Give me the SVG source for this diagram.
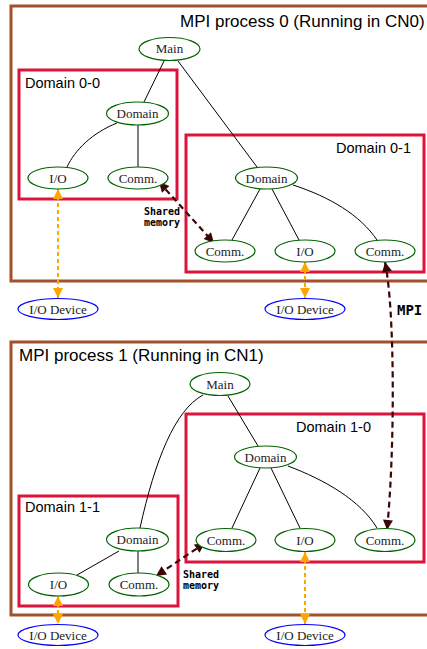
<svg xmlns="http://www.w3.org/2000/svg" width="427" height="649" viewBox="0 0 427 649">
<style>
.proc{fill:none;stroke:#a0522d;stroke-width:3}
.dom{fill:none;stroke:#dc143c;stroke-width:3}
.node{fill:#fff;stroke:#006400;stroke-width:1.2}
.dev{fill:#fff;stroke:#0000ff;stroke-width:1.2}
.nt{font-family:"Liberation Serif","Times New Roman",serif;font-size:13px;fill:#222;text-anchor:middle}
.lbl{font-family:"Liberation Sans",Arial,sans-serif;font-size:14.5px;fill:#000}
.ttl{font-family:"Liberation Sans",Arial,sans-serif;font-size:17px;fill:#000}
.mono{font-family:"DejaVu Sans Mono","Liberation Mono",monospace;font-weight:bold;fill:#000}
.e{fill:none;stroke:#000;stroke-width:1}
.io{fill:none;stroke:#ffa500;stroke-width:2;stroke-dasharray:4,3;marker-start:url(#ao);marker-end:url(#ao)}
.sm{fill:none;stroke:#3c0505;stroke-width:2.2;stroke-dasharray:6,4;marker-start:url(#ad);marker-end:url(#ad)}
</style>
<defs>
<marker id="ao" viewBox="0 0 10 10" refX="10" refY="5" markerWidth="11" markerHeight="10" markerUnits="userSpaceOnUse" orient="auto-start-reverse"><path d="M0,0 L10,5 L0,10 z" fill="#ffa500"/></marker>
<marker id="ad" viewBox="0 0 10 10" refX="10" refY="5" markerWidth="12" markerHeight="10" markerUnits="userSpaceOnUse" orient="auto-start-reverse"><path d="M0,0 L10,5 L0,10 z" fill="#3c0505"/></marker>
</defs>
<rect width="427" height="649" fill="#fff"/>

<g id="process0"><rect class="proc" x="11" y="6" width="430" height="275"/><text class="ttl" x="180" y="27">MPI process 0 (Running in CN0)</text></g>
<g id="domain00"><rect class="dom" x="19" y="70" width="158" height="129"/><text class="lbl" x="25" y="88">Domain 0-0</text></g>
<g id="domain01"><rect class="dom" x="186" y="135" width="238" height="137"/><text class="lbl" x="336" y="153">Domain 0-1</text></g>
<g id="process1"><rect class="proc" x="11" y="342" width="430" height="273"/><text class="ttl" x="19" y="361">MPI process 1 (Running in CN1)</text></g>
<g id="domain10"><rect class="dom" x="186" y="414" width="238" height="148"/><text class="lbl" x="296" y="432">Domain 1-0</text></g>
<g id="domain11"><rect class="dom" x="19" y="496" width="159" height="110"/><text class="lbl" x="25" y="512">Domain 1-1</text></g>

<g id="connectors">
<line class="e" x1="164" y1="61" x2="144" y2="102"/>
<line class="e" x1="178" y1="61" x2="257" y2="167"/>
<path class="e" d="M117,123 C92,133 75,150 67,167"/>
<line class="e" x1="138" y1="125" x2="138" y2="167"/>
<line class="e" x1="260" y1="189" x2="232" y2="240"/>
<line class="e" x1="272" y1="189" x2="299" y2="240"/>
<path class="e" d="M293,185 C330,197 360,215 377,240"/>
<line class="e" x1="228" y1="396" x2="258" y2="446"/>
<path class="e" d="M203,395 C175,410 155,460 140,528"/>
<line class="e" x1="260" y1="468" x2="232" y2="528"/>
<line class="e" x1="271" y1="468" x2="300" y2="528"/>
<path class="e" d="M288,466 C325,480 360,500 377,528"/>
<line class="e" x1="119" y1="551" x2="77" y2="575"/>
<line class="e" x1="138" y1="551" x2="138" y2="573"/>

<line class="io" x1="58" y1="189" x2="58" y2="298"/>
<line class="io" x1="305" y1="262" x2="305" y2="298"/>
<line class="io" x1="58" y1="596" x2="58" y2="624"/>
<line class="io" x1="305" y1="552" x2="305" y2="624"/>

<line class="sm" x1="159" y1="182" x2="214" y2="243"/>
<line class="sm" x1="205" y1="543" x2="156" y2="576"/>
<path class="sm" d="M385,262 C395,310 395,450 387,530"/>
<text class="mono" font-size="10" x="144" y="214.5">Shared</text>
<text class="mono" font-size="10" x="144" y="225.5">memory</text>
<text class="mono" font-size="10" x="183" y="577.5">Shared</text>
<text class="mono" font-size="10" x="183" y="588.5">memory</text>
<text class="mono" font-size="14" x="397" y="315">MPI</text>
</g>

<g id="main0"><ellipse class="node" cx="169.5" cy="49" rx="30.5" ry="11.5"/><text class="nt" x="169.5" y="53">Main</text></g>
<g id="dom00"><ellipse class="node" cx="137.5" cy="113.5" rx="31" ry="11.5"/><text class="nt" x="137.5" y="118">Domain</text></g>
<g id="io00"><ellipse class="node" cx="58" cy="178" rx="30" ry="11"/><text class="nt" x="58" y="182.5">I/O</text></g>
<g id="comm00"><ellipse class="node" cx="138" cy="178" rx="30" ry="11"/><text class="nt" x="138" y="182.5">Comm.</text></g>
<g id="dom01"><ellipse class="node" cx="266.5" cy="178" rx="31" ry="11"/><text class="nt" x="266.5" y="182.5">Domain</text></g>
<g id="comm01a"><ellipse class="node" cx="225" cy="251" rx="30" ry="11"/><text class="nt" x="225" y="255.5">Comm.</text></g>
<g id="io01"><ellipse class="node" cx="305" cy="251" rx="30" ry="11"/><text class="nt" x="305" y="255.5">I/O</text></g>
<g id="comm01b"><ellipse class="node" cx="385" cy="251" rx="30" ry="11"/><text class="nt" x="385" y="255.5">Comm.</text></g>
<g id="dev0a"><ellipse class="dev" cx="58" cy="309" rx="40" ry="10.5"/><text class="nt" x="58" y="313.5">I/O Device</text></g>
<g id="dev0b"><ellipse class="dev" cx="305" cy="309" rx="40" ry="10.5"/><text class="nt" x="305" y="313.5">I/O Device</text></g>

<g id="main1"><ellipse class="node" cx="220" cy="384" rx="30" ry="11.5"/><text class="nt" x="220" y="388.5">Main</text></g>
<g id="dom10"><ellipse class="node" cx="265.5" cy="457" rx="31" ry="11"/><text class="nt" x="265.5" y="461.5">Domain</text></g>
<g id="comm10a"><ellipse class="node" cx="226" cy="540" rx="30" ry="11.5"/><text class="nt" x="226" y="544.5">Comm.</text></g>
<g id="io10"><ellipse class="node" cx="305" cy="540" rx="30" ry="11.5"/><text class="nt" x="305" y="544.5">I/O</text></g>
<g id="comm10b"><ellipse class="node" cx="385" cy="540" rx="30" ry="11.5"/><text class="nt" x="385" y="544.5">Comm.</text></g>
<g id="dom11"><ellipse class="node" cx="137.5" cy="539.5" rx="31" ry="11.5"/><text class="nt" x="137.5" y="544">Domain</text></g>
<g id="io11"><ellipse class="node" cx="58.5" cy="584.5" rx="30" ry="11.5"/><text class="nt" x="58.5" y="589">I/O</text></g>
<g id="comm11"><ellipse class="node" cx="139" cy="584.5" rx="30" ry="11.5"/><text class="nt" x="139" y="589">Comm.</text></g>
<g id="dev1a"><ellipse class="dev" cx="58" cy="635" rx="40" ry="10.5"/><text class="nt" x="58" y="639.5">I/O Device</text></g>
<g id="dev1b"><ellipse class="dev" cx="305" cy="635" rx="40" ry="10.5"/><text class="nt" x="305" y="639.5">I/O Device</text></g>
</svg>
